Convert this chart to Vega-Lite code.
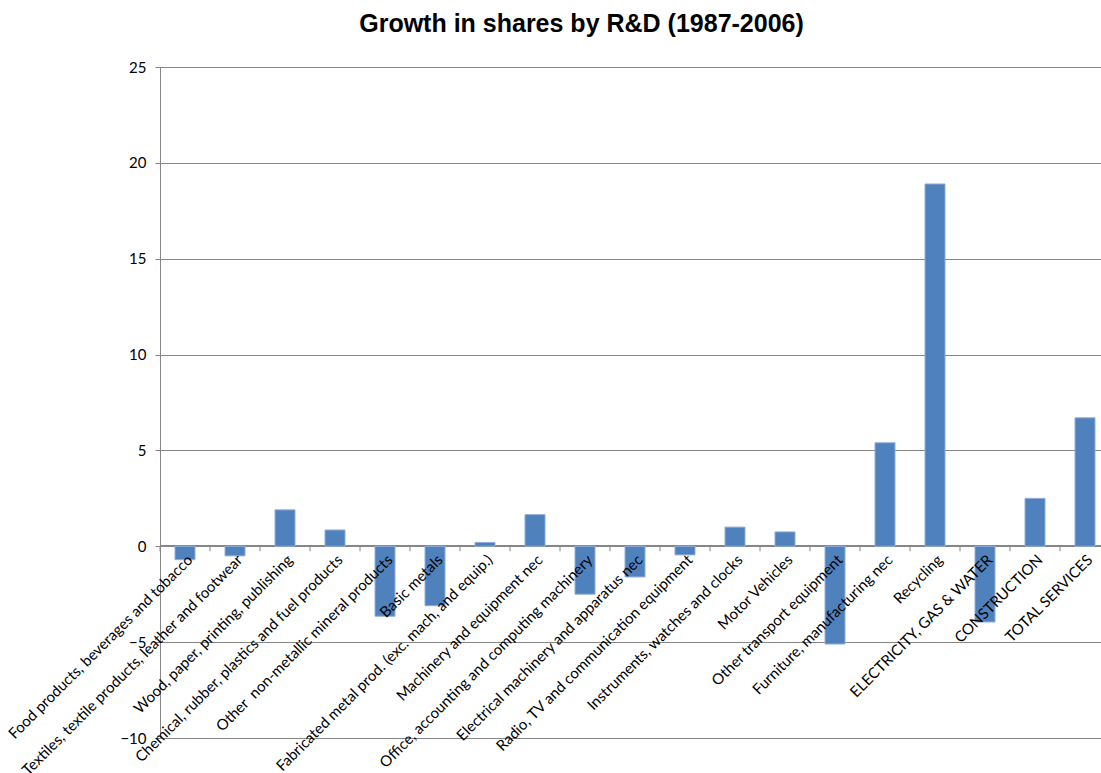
{
  "$schema": "https://vega.github.io/schema/vega-lite/v6.json",
  "width": 941,
  "height": 671,
  "autosize": {"type": "none"},
  "padding": {"left": 160, "top": 67, "right": 0, "bottom": 35},
  "background": "white",
  "title": {
    "text": "Growth in shares by R&D (1987-2006)",
    "font": "Liberation Sans",
    "fontSize": 25,
    "fontWeight": "bold",
    "color": "#000000",
    "anchor": "middle",
    "dx": -49,
    "baseline": "alphabetic",
    "offset": 3
  },
  "config": {
    "view": {"stroke": null},
    "axis": {"labelFont": "Lato", "labelColor": "#000000"}
  },
  "data": {
    "values": [
      {"sector": "Food products, beverages and tobacco", "growth": -0.7},
      {"sector": "Textiles, textile products, leather and footwear", "growth": -0.5},
      {"sector": "Wood, paper, printing, publishing", "growth": 1.9},
      {"sector": "Chemical, rubber, plastics and fuel products", "growth": 0.85},
      {"sector": "Other\u00a0 non-metallic mineral products", "growth": -3.65},
      {"sector": "Basic metals", "growth": -3.1},
      {"sector": "Fabricated metal prod. (exc. mach, and equip.)", "growth": 0.2},
      {"sector": "Machinery and equipment nec", "growth": 1.65},
      {"sector": "Office, accounting and computing machinery", "growth": -2.5},
      {"sector": "Electrical machinery and apparatus nec", "growth": -1.6},
      {"sector": "Radio, TV and communication equipment", "growth": -0.45},
      {"sector": "Instruments, watches and clocks", "growth": 1.0},
      {"sector": "Motor Vehicles", "growth": 0.75},
      {"sector": "Other transport equipment", "growth": -5.1},
      {"sector": "Furniture, manufacturing nec", "growth": 5.4},
      {"sector": "Recycling", "growth": 18.9},
      {"sector": "ELECTRICITY, GAS & WATER", "growth": -3.95},
      {"sector": "CONSTRUCTION", "growth": 2.5},
      {"sector": "TOTAL SERVICES", "growth": 6.7}
    ]
  },
  "layer": [
    {
      "mark": {"type": "rule", "color": "#868686", "strokeWidth": 1},
      "encoding": {
        "y": {"datum": 0, "type": "quantitative"}
      }
    },
    {
      "mark": {"type": "bar", "color": "#4F81BD", "stroke": "#8FAEDB", "strokeWidth": 1},
      "encoding": {
        "x": {
          "field": "sector",
          "type": "nominal",
          "sort": null,
          "scale": {"range": [0, 950], "paddingInner": 0.6, "paddingOuter": 0.3},
          "axis": {
            "title": null,
            "orient": "bottom",
            "offset": -192,
            "zindex": 1,
            "labelAngle": -45,
            "labelFontSize": 15,
            "labelPadding": 6,
            "labelLimit": 500,
            "labelOverlap": false,
            "labelBound": false,
            "ticks": false,
            "domain": false,
            "grid": false
          }
        },
        "y": {
          "field": "growth",
          "type": "quantitative",
          "scale": {"domain": [-10, 25], "nice": false, "zero": false},
          "axis": {
            "title": null,
            "values": [-10, -5, 0, 5, 10, 15, 20, 25],
            "labelFontSize": 15,
            "labelPadding": 9,
            "tickSize": 5,
            "tickColor": "#868686",
            "domainColor": "#868686",
            "gridColor": "#868686",
            "gridWidth": 1,
            "grid": true
          }
        }
      }
    },
    {
      "mark": {"type": "rule", "color": "#868686", "strokeWidth": 1},
      "encoding": {
        "x": {"field": "sector", "type": "nominal", "sort": null, "bandPosition": -0.75},
        "y": {"datum": 0},
        "y2": {"datum": -0.26}
      }
    }
  ]
}
